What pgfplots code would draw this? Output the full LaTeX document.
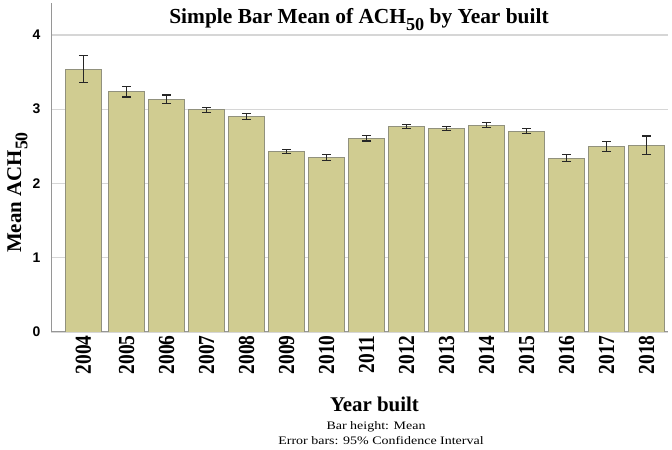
\documentclass[border=0pt]{standalone}
\usepackage{pgfplots}
\pgfplotsset{compat=1.18}
\usepackage{fontspec}
\setmainfont{Liberation Serif}
\newfontfamily\arialfont{Liberation Sans}
\definecolor{barfill}{RGB}{208,204,145}
\definecolor{baredge}{RGB}{145,145,125}
\definecolor{gridc}{RGB}{214,214,214}
\definecolor{axisc}{RGB}{150,150,150}
\newcommand\sub[1]{\raisebox{-0.3em}{\scalebox{0.85}{#1}}}
\newcommand\yl[1]{\scalebox{1}[1.18]{#1}}
\begin{document}
\begin{tikzpicture}[x=1bp,y=1bp]
\useasboundingbox (0,0) rectangle (672,450);
\begin{axis}[
  at={(51bp,118bp)}, anchor=south west,
  width=617bp, height=329bp, scale only axis,
  xmin=-0.8875, xmax=14.5375, ymin=0, ymax=4.43,
  axis x line=bottom, axis y line=left,
  axis line style={-, draw=axisc, line width=1bp},
  ytick={0,1,2,3,4},
  /pgf/number format/assume math mode=true,
  ymajorgrids, grid style={draw=gridc, line width=1.3bp},
  xtick=data,
  xticklabels={\yl{2004},\yl{2005},\yl{2006},\yl{2007},\yl{2008},\yl{2009},\yl{2010},\yl{2011},\yl{2012},\yl{2013},\yl{2014},\yl{2015},\yl{2016},\yl{2017},\yl{2018}},
  x tick label style={rotate=90, anchor=east, font=\fontsize{19.5}{20}\selectfont\bfseries},
  y tick label style={font=\arialfont\fontsize{14}{14}\selectfont\bfseries, xshift=-7bp},
  major tick length=0,
  ybar, bar width=0.9,
]
\addplot[fill=barfill, draw=baredge, line width=0.9bp,
  error bars/.cd, y dir=both, y explicit,
  error bar style={line width=1.2bp, black!85},
  error mark options={rotate=90, line width=1.2bp, black!85, mark size=4.5bp}]
  table[x=x, y=y, y error=e] {
x y e
-0.08 3.54 0.18
1 3.235 0.07
2 3.135 0.055
3 2.99 0.036
4 2.90 0.04
5 2.43 0.03
6 2.35 0.037
7 2.61 0.037
8 2.766 0.031
9 2.74 0.031
10 2.785 0.035
11 2.705 0.037
12 2.34 0.045
13 2.50 0.069
14 2.515 0.125
};
\end{axis}
\node[anchor=base] at (359,426) {\fontsize{21.5}{22}\selectfont\bfseries Simple Bar Mean of ACH\sub{50} by Year built};
\node[rotate=90, anchor=base] at (21,257.5) {\fontsize{21}{22}\selectfont\bfseries Mean ACH\sub{50}};
\node[anchor=base] at (374.5,38.3) {\fontsize{21}{22}\selectfont\bfseries Year built};
\node[anchor=base, inner sep=0pt] at (376,20) {\scalebox{1.22}[1]{\fontsize{11.5}{12}\selectfont Bar height: Mean}};
\node[anchor=base, inner sep=0pt] at (381,5.5) {\scalebox{1.22}[1]{\fontsize{11.5}{12}\selectfont Error bars: 95\% Confidence Interval}};
\end{tikzpicture}
\end{document}
